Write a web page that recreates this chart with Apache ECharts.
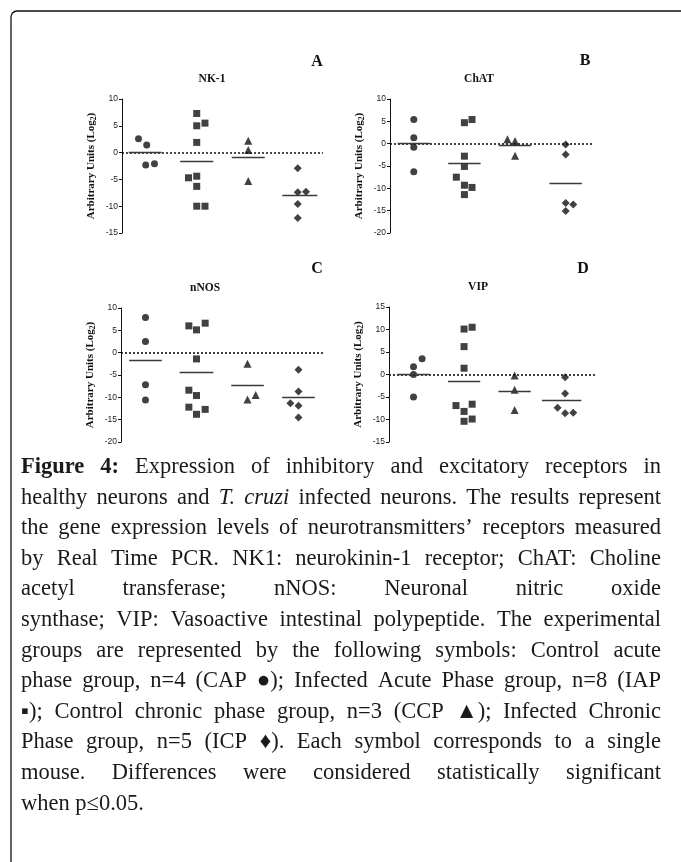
<!DOCTYPE html>
<html><head><meta charset="utf-8">
<script src="https://cdn.jsdelivr.net/npm/echarts@6/dist/echarts.min.js"></script>
<style>html,body{margin:0;padding:0;background:#fff}#c{width:681px;height:862px}</style>
</head><body><div id="c"></div>
<script>
// ---------------- DATA ----------------
const groups = ['CAP', 'IAP', 'CCP', 'ICP'];
const panelTitles = ['NK-1', 'ChAT', 'nNOS', 'VIP'];
const panelLetters = ['A', 'B', 'C', 'D'];
const yRanges = [[-15, 10], [-20, 10], [-20, 10], [-15, 15]];
const yInterval = 5;

// [group position + jitter, value]
const nk1CAP = [[0.87, 2.6], [1.03, 1.4], [1.01, -2.3], [1.18, -2.1]];
const nk1IAP = [[2, 7.3], [2, 5.0], [2.16, 5.5], [2, 1.9], [1.84, -4.7], [2, -4.4], [2, -6.3], [2, -10], [2.16, -10]];
const nk1CCP = [[3, 2.2], [3, 0.5], [3, -5.3]];
const nk1ICP = [[3.96, -2.9], [3.96, -7.4], [4.12, -7.3], [3.96, -9.6], [3.96, -12.2]];
const nk1Mean = [0, -1.6, -0.9, -7.9];

const chatCAP = [[1, 5.4], [1, 1.3], [1, -0.8], [1, -6.3]];
const chatIAP = [[2, 4.7], [2.15, 5.4], [2, -2.8], [2, -5.1], [1.84, -7.5], [2, -9.3], [2.15, -9.8], [2, -11.4]];
const chatCCP = [[2.85, 1.0], [3, 0.6], [3, -2.7]];
const chatICP = [[4, -0.2], [4, -2.4], [4, -13.3], [4.15, -13.6], [4, -15.1]];
const chatMean = [0, -4.3, -0.4, -8.9];

const nnosCAP = [[1, 7.9], [1, 2.5], [1, -7.2], [1, -10.6]];
const nnosIAP = [[1.85, 6.0], [2, 5.1], [2.17, 6.6], [2, -1.4], [1.85, -8.4], [2, -9.6], [1.85, -12.2], [2, -13.8], [2.17, -12.7]];
const nnosCCP = [[3, -2.5], [3, -10.5], [3.16, -9.5]];
const nnosICP = [[4, -3.8], [4, -8.7], [3.84, -11.3], [4, -11.9], [4, -14.5]];
const nnosMean = [-1.8, -4.3, -7.3, -10.0];

const vipCAP = [[1, 1.7], [1.17, 3.5], [1, 0], [1, -5.0]];
const vipIAP = [[2, 10.1], [2.16, 10.5], [2, 6.2], [2, 1.4], [1.84, -6.9], [2.16, -6.6], [2, -8.2], [2, -10.4], [2.16, -9.9]];
const vipCCP = [[3, -0.2], [3, -3.4], [3, -7.9]];
const vipICP = [[4, -0.6], [4, -4.2], [3.85, -7.4], [4, -8.6], [4.16, -8.5]];
const vipMean = [0, -1.4, -3.7, -5.8];

const meanCenters = [[1, 2, 3, 4], [1, 2, 3, 4], [1, 2, 3, 4], [1, 2, 3, 3.93]];

const captionLines = [
  '^Figure ^4: Expression of inhibitory and excitatory receptors in',
  'healthy neurons and _T. _cruzi infected neurons. The results represent',
  'the gene expression levels of neurotransmitters\u2019 receptors measured',
  'by Real Time PCR. NK1: neurokinin-1 receptor; ChAT: Choline',
  'acetyl transferase; nNOS: Neuronal nitric oxide',
  'synthase; VIP: Vasoactive intestinal polypeptide. The experimental',
  'groups are represented by the following symbols: Control acute',
  'phase group, n=4 (CAP \u25CF); Infected Acute Phase group, n=8 (IAP',
  '\u25AA); Control chronic phase group, n=3 (CCP \u25B2); Infected Chronic',
  'Phase group, n=5 (ICP \u2666). Each symbol corresponds to a single',
  'mouse. Differences were considered statistically significant',
  'when p\u22640.05.'
];

// ---------------- LAYOUT ----------------
const panelData = [
  [nk1CAP, nk1IAP, nk1CCP, nk1ICP],
  [chatCAP, chatIAP, chatCCP, chatICP],
  [nnosCAP, nnosIAP, nnosCCP, nnosICP],
  [vipCAP, vipIAP, vipCCP, vipICP]
];
const panelMeans = [nk1Mean, chatMean, nnosMean, vipMean];
const symbols = ['circle', 'rect', 'triangle', 'diamond'];
const symbolSizes = [7, 7, 8, 8];
const layout = [
  {left: 122, top: 99, width: 201, height: 134, xMin: 0.55, xMax: 4.45, title: [212, 79], letter: [317, 62]},
  {left: 390, top: 99, width: 202, height: 134, xMin: 0.53, xMax: 4.52, title: [479, 79], letter: [585, 61]},
  {left: 121, top: 308, width: 202, height: 134, xMin: 0.52, xMax: 4.48, title: [205, 288], letter: [317, 269]},
  {left: 389, top: 307, width: 208, height: 135, xMin: 0.515, xMax: 4.63, title: [478, 287], letter: [583, 269]}
];
const meanHalf = [[0.32, 0.32, 0.32, 0.34], [0.32, 0.32, 0.32, 0.32], [0.32, 0.33, 0.32, 0.32], [0.32, 0.32, 0.32, 0.39]];

const SERIF = '"Liberation Serif", "Times New Roman", serif';
const SANS = '"Liberation Sans", Arial, sans-serif';

const grids = [], xAxes = [], yAxes = [], series = [], graphics = [];
layout.forEach((L, i) => {
  grids.push({left: L.left, top: L.top, width: L.width, height: L.height, containLabel: false});
  xAxes.push({type: 'value', gridIndex: i, min: L.xMin, max: L.xMax, show: false});
  yAxes.push({
    type: 'value', gridIndex: i, min: yRanges[i][0], max: yRanges[i][1], interval: yInterval,
    axisLine: {show: true, lineStyle: {color: '#111', width: 1}},
    axisTick: {show: true, length: 3, lineStyle: {color: '#111', width: 1}},
    axisLabel: {fontSize: 8.5, color: '#222', fontFamily: SANS, margin: 4},
    splitLine: {show: false},
    name: '{a|Arbitrary Units (Log}{s|2}{a|)}',
    nameLocation: 'middle', nameGap: 24, nameRotate: 90,
    nameTextStyle: {rich: {
      a: {fontFamily: SERIF, fontWeight: 'bold', fontSize: 11, color: '#111', lineHeight: 14},
      s: {fontFamily: SERIF, fontWeight: 'bold', fontSize: 7.5, color: '#111', verticalAlign: 'bottom'}
    }}
  });
  groups.forEach((g, k) => {
    const s = {
      name: panelTitles[i] + ' ' + g, type: 'scatter', xAxisIndex: i, yAxisIndex: i,
      symbol: symbols[k], symbolSize: symbolSizes[k], data: panelData[i][k],
      itemStyle: {color: '#111'}, silent: true, z: 3
    };
    if (k === 0) {
      const ml = [{yAxis: 0, lineStyle: {type: [2, 2], width: 1.6, color: '#111'}}];
      panelMeans[i].forEach((m, j) => {
        const c = meanCenters[i][j], h = meanHalf[i][j];
        ml.push([{coord: [c - h, m]}, {coord: [c + h, m]}]);
      });
      s.markLine = {silent: true, symbol: 'none', label: {show: false}, animation: false,
        lineStyle: {color: '#3a3a3a', width: 1.4, type: 'solid'}, data: ml};
    }
    series.push(s);
  });
  graphics.push({type: 'text', x: L.title[0], y: L.title[1], silent: true,
    style: {text: panelTitles[i], fontFamily: SERIF, fontWeight: 'bold', fontSize: 11.5, fill: '#111', align: 'center', verticalAlign: 'middle'}});
  graphics.push({type: 'text', x: L.letter[0], y: L.letter[1], silent: true,
    style: {text: panelLetters[i], fontFamily: SERIF, fontWeight: 'bold', fontSize: 16, fill: '#111', align: 'center', verticalAlign: 'middle'}});
});

// frame (top and left edges visible with rounded corner)
graphics.push({type: 'rect', silent: true, shape: {x: 11, y: 11, width: 720, height: 900, r: 6},
  style: {fill: 'none', stroke: '#111', lineWidth: 1.3}});

// caption, justified
const CAP_SIZE = 22.5, CAP_LEFT = 21, CAP_RIGHT = 661, CAP_TOP = 467, CAP_LH = 30.6;
const ctx = document.createElement('canvas').getContext('2d');
function parseLine(line) {
  return line.split(' ').filter(w => w.length).map(w => {
    let bold = false, italic = false;
    if (w[0] === '^') { bold = true; w = w.slice(1); }
    else if (w[0] === '_') { italic = true; w = w.slice(1); }
    return {t: w, bold, italic};
  });
}
function fontOf(w) { return (w.italic ? 'italic ' : '') + (w.bold ? 'bold ' : '') + CAP_SIZE + 'px ' + SERIF; }
captionLines.forEach((line, li) => {
  const words = parseLine(line);
  const widths = words.map(w => { ctx.font = fontOf(w); return ctx.measureText(w.t).width; });
  const total = widths.reduce((a, b) => a + b, 0);
  ctx.font = fontOf({});
  const sp = ctx.measureText(' ').width;
  const last = li === captionLines.length - 1;
  let gap = last ? sp : (CAP_RIGHT - CAP_LEFT - total) / (words.length - 1);
  let scale = 1;
  if (gap < sp * 0.7) {
    gap = sp * 0.7;
    scale = (CAP_RIGHT - CAP_LEFT - gap * (words.length - 1)) / total;
  }
  let x = CAP_LEFT;
  const y = CAP_TOP + li * CAP_LH;
  words.forEach((w, k) => {
    graphics.push({type: 'text', x: x, y: y, silent: true, scaleX: scale,
      style: {text: w.t, fontFamily: SERIF, fontSize: CAP_SIZE, fontWeight: w.bold ? 'bold' : 'normal',
        fontStyle: w.italic ? 'italic' : 'normal', fill: '#1a1a1a', align: 'left', verticalAlign: 'middle'}});
    x += widths[k] * scale + gap;
  });
});

const chart = echarts.init(document.getElementById('c'), null, {renderer: 'canvas'});
chart.setOption({
  animation: false,
  backgroundColor: '#ffffff',
  grid: grids, xAxis: xAxes, yAxis: yAxes, series: series,
  graphic: graphics
});
</script></body></html>
